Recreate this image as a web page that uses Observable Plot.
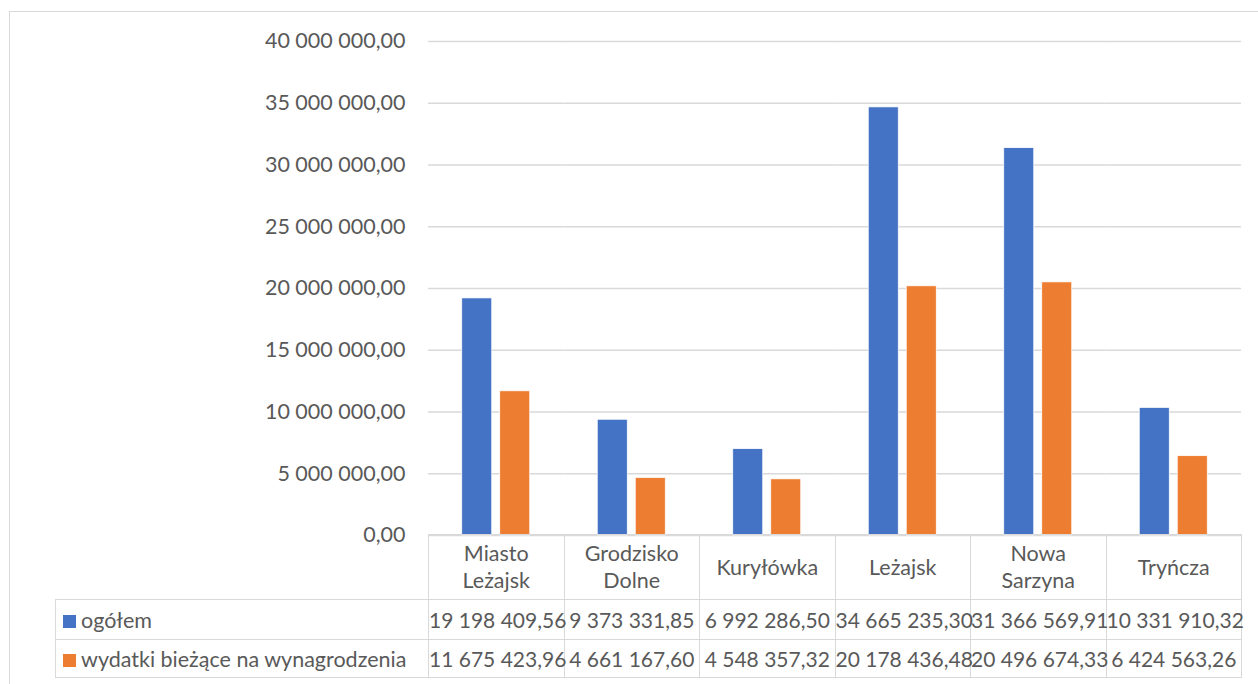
<!DOCTYPE html>
<html>
<head>
<meta charset="utf-8">
<script src="https://cdn.jsdelivr.net/npm/d3@7"></script>
<script src="https://cdn.jsdelivr.net/npm/@observablehq/plot@0.6"></script>
<style>
  html, body { margin: 0; padding: 0; background: #fff; }
  body { width: 1258px; height: 684px; position: relative; overflow: hidden; font-family: Lato, "Open Sans", sans-serif; }
  #frame { position: absolute; left: 9px; top: 11px; width: 1400px; height: 800px; border: 1px solid #d9d9d9; box-sizing: border-box; }
  #chart { position: absolute; left: 0; top: 0; }
  #tbl { position: absolute; left: 55px; top: 534px; width: 1187px; border-collapse: collapse; table-layout: fixed; font-size: 21.5px; color: #595959; }
  #tbl td { border: 1.5px solid #d9d9d9; text-align: center; white-space: nowrap; padding: 0; overflow: visible; }
  #tbl td.num { font-size: 21px; }
  #tbl tr.head td { height: 64px; white-space: normal; line-height: 27px; padding: 0 12px; }
  #tbl tr.head td.blank { border: none; border-right: 1.5px solid #d9d9d9; }
  #tbl tr.r1 td { height: 39px; }
  #tbl tr.r2 td { height: 37px; }
  #tbl td.lab { text-align: left; padding-left: 7px; }
  .sw { display: inline-block; width: 13px; height: 13px; margin-right: 5px; vertical-align: 0px; }
</style>
</head>
<body>
<div id="frame"></div>
<div id="chart"></div>
<table id="tbl"></table>
<script>
const categories = ["Miasto Leżajsk", "Grodzisko Dolne", "Kuryłówka", "Leżajsk", "Nowa Sarzyna", "Tryńcza"];
const seriesNames = ["ogółem", "wydatki bieżące na wynagrodzenia"];
const seriesColors = ["#4472C4", "#ED7D31"];
const ogolem = [19198409.56, 9373331.85, 6992286.50, 34665235.30, 31366569.91, 10331910.32];
const wydatki = [11675423.96, 4661167.60, 4548357.32, 20178436.48, 20496674.33, 6424563.26];
const yTicks = [0, 5000000, 10000000, 15000000, 20000000, 25000000, 30000000, 35000000, 40000000];

const locale = d3.formatLocale({decimal: ",", thousands: " ", grouping: [3], currency: ["", ""]});
const fmt = locale.format(",.2f");

const data = [];
categories.forEach((c, i) => {
  data.push({cat: c, series: seriesNames[0], value: ogolem[i]});
  data.push({cat: c, series: seriesNames[1], value: wydatki[i]});
});

const chart = Plot.plot({
  width: 1258,
  height: 552,
  marginLeft: 428,
  marginRight: 17,
  marginTop: 41,
  marginBottom: 17,
  style: {fontFamily: "Lato, 'Open Sans', sans-serif", fontSize: "21.5px", color: "#595959", background: "transparent", overflow: "visible"},
  fx: {domain: categories, padding: 0, axis: null, round: false},
  x: {domain: seriesNames, paddingInner: 0.21, paddingOuter: 0.888, axis: null, round: false},
  y: {domain: [0, 40000000], axis: null},
  color: {domain: seriesNames, range: seriesColors},
  marks: [
    Plot.gridY(yTicks, {stroke: "#d9d9d9", strokeOpacity: 1, strokeWidth: 1.5}),
    Plot.axisY(yTicks, {anchor: "left", label: null, tickSize: 0, tickPadding: 23, tickFormat: fmt, fill: "#595959", fontSize: "21.5px"}),
    Plot.barY(data, {fx: "cat", x: "series", y: "value", fill: "series", stroke: "#ffffff", strokeWidth: 0.75})
  ]
});
document.getElementById("chart").appendChild(chart);

// data table below chart
const tbl = document.getElementById("tbl");
const colgroup = document.createElement("colgroup");
const c0 = document.createElement("col"); c0.style.width = "373px"; colgroup.appendChild(c0);
categories.forEach(() => { const c = document.createElement("col"); c.style.width = "135.5px"; colgroup.appendChild(c); });
tbl.appendChild(colgroup);

const head = document.createElement("tr"); head.className = "head";
const blank = document.createElement("td"); blank.className = "blank"; head.appendChild(blank);
categories.forEach(c => { const td = document.createElement("td"); td.textContent = c; head.appendChild(td); });
tbl.appendChild(head);

[ogolem, wydatki].forEach((vals, si) => {
  const tr = document.createElement("tr"); tr.className = si === 0 ? "r1" : "r2";
  const lab = document.createElement("td"); lab.className = "lab";
  const sw = document.createElement("span"); sw.className = "sw"; sw.style.background = seriesColors[si];
  lab.appendChild(sw); lab.appendChild(document.createTextNode(seriesNames[si]));
  tr.appendChild(lab);
  vals.forEach(v => { const td = document.createElement("td"); td.className = "num"; td.textContent = fmt(v); tr.appendChild(td); });
  tbl.appendChild(tr);
});
</script>
</body>
</html>
